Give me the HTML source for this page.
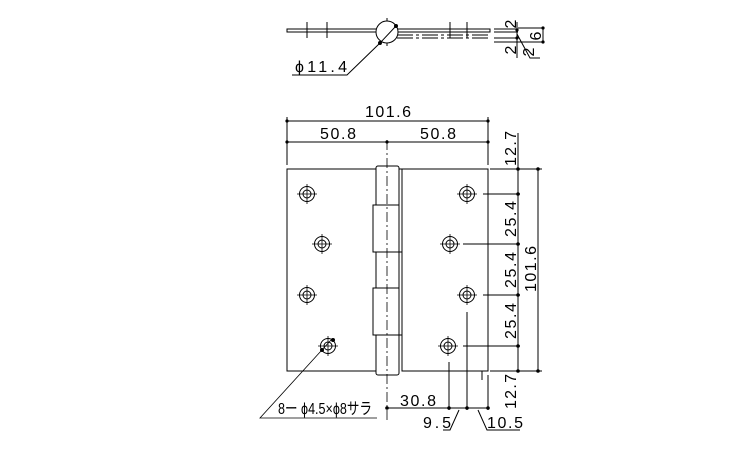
<!DOCTYPE html>
<html><head><style>body{margin:0;background:#fff}svg{display:block}text{font-family:"Liberation Sans","Noto Sans CJK JP",sans-serif;font-size:16px;fill:#000}</style></head><body>
<svg width="750" height="450" viewBox="0 0 750 450" xmlns="http://www.w3.org/2000/svg">
<defs>
<g id="h"><circle r="7.5" fill="none" stroke="#000" stroke-width="1"/><circle r="4" fill="none" stroke="#000" stroke-width="1"/><path d="M-10 0H10M0 -10V10" stroke="#000" stroke-width="0.8"/></g>
</defs>
<g stroke="#000" stroke-width="1" fill="none">
<rect x="287" y="29" width="203" height="3"/>
<path d="M397 35H490M397 38H490" stroke-dasharray="16 3 3 3"/>
<path d="M307 22V38M327 22V38M450 22V38M467 22V38M387 18V46"/>
<circle cx="387" cy="32" r="11" fill="#fff"/>
<path d="M380 43L396 26M380 43L347 75H292"/>
<path d="M494 29H518M494 32H518M494 38H518M494 42H518M517 22V58M543 28V42M517 34L530 58H540M518 28H543M518 42H543"/>
<rect x="287" y="169" width="89" height="202"/>
<rect x="402" y="169" width="86" height="202"/>
<rect x="376" y="166" width="23" height="209" rx="2" fill="#fff"/>
<path d="M373 205H399V252H373ZM373 288H399V335H373Z" fill="#fff"/>
<path d="M399 169H402V205M399 252H402V288M399 335H402V371"/>
<path d="M387 140V420" stroke-dasharray="10 3 2 3" stroke-width="0.8"/>
<path d="M287 117V165M488 117V165M287 121H488M287 142H488"/>
<path d="M490 169H542M483 194H520M463 244H520M483 295H520M463 346H520M490 371H542M518 133V371M538 169V371"/>
<path d="M449 362V410M467 312V410M488 375V410M387 408H488M459 410L450 430H443M478 410L487 430H520M482 371V380"/>
<path d="M331 340L260 418H377" stroke-width="0.8"/>
</g>
<g fill="#000">
<circle cx="396" cy="26" r="2"/><circle cx="380" cy="43" r="2"/>
<circle cx="517" cy="30" r="1.6"/><circle cx="517" cy="38" r="1.6"/><circle cx="543" cy="28" r="1.6"/><circle cx="543" cy="42" r="1.6"/>
<circle cx="287" cy="121" r="1.6"/><circle cx="488" cy="121" r="1.6"/><circle cx="287" cy="142" r="1.6"/><circle cx="387" cy="142" r="1.6"/><circle cx="488" cy="142" r="1.6"/>
<circle cx="518" cy="169" r="1.8"/><circle cx="518" cy="194" r="1.8"/><circle cx="518" cy="244" r="1.8"/><circle cx="518" cy="295" r="1.8"/><circle cx="518" cy="346" r="1.8"/><circle cx="518" cy="371" r="1.8"/><circle cx="538" cy="169" r="1.8"/><circle cx="538" cy="371" r="1.8"/>
<circle cx="387" cy="408" r="1.8"/><circle cx="449" cy="408" r="1.8"/><circle cx="467" cy="408" r="1.8"/><circle cx="488" cy="408" r="1.8"/>
<circle cx="333" cy="340" r="2"/><circle cx="322" cy="350" r="2"/>
</g>
<use href="#h" x="307" y="194"/><use href="#h" x="322" y="244"/><use href="#h" x="307" y="295"/><use href="#h" x="328" y="346"/>
<use href="#h" x="467" y="194"/><use href="#h" x="450" y="244"/><use href="#h" x="467" y="295"/><use href="#h" x="448" y="346"/>
<text x="295" y="72" textLength="52">ϕ11.4</text>
<text transform="translate(516,24) rotate(-90)" text-anchor="middle">2</text>
<text transform="translate(516,50) rotate(-90)" text-anchor="middle">2</text>
<text transform="translate(541,36) rotate(-90)" text-anchor="middle">6</text>
<text transform="translate(534,52) rotate(-90)" text-anchor="middle">2</text>
<text x="365" y="117" textLength="46">101.6</text>
<text x="320" y="139" textLength="36">50.8</text>
<text x="420" y="139" textLength="36">50.8</text>
<text transform="translate(516,166) rotate(-90)" textLength="35">12.7</text>
<text transform="translate(516,237) rotate(-90)" textLength="36">25.4</text>
<text transform="translate(516,288) rotate(-90)" textLength="36">25.4</text>
<text transform="translate(516,339) rotate(-90)" textLength="36">25.4</text>
<text transform="translate(516,409) rotate(-90)" textLength="35">12.7</text>
<text transform="translate(536,292) rotate(-90)" textLength="46">101.6</text>
<text x="400" y="406" textLength="36">30.8</text>
<text x="423" y="428" textLength="28">9.5</text>
<text x="487" y="428" textLength="36">10.5</text>
<text x="278" y="414" font-size="14" textLength="94" lengthAdjust="spacingAndGlyphs">8ー ϕ4.5×ϕ8サラ</text>
</svg>
</body></html>
